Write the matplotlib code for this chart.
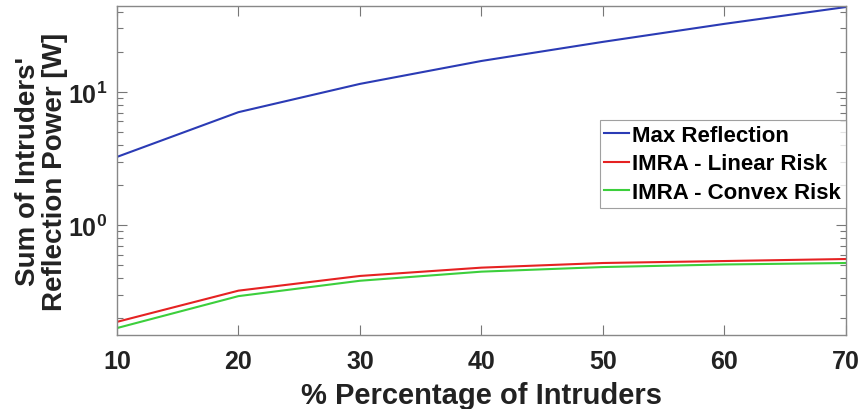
import numpy as np
import matplotlib
matplotlib.use("Agg")
import matplotlib.pyplot as plt
from matplotlib.ticker import LogLocator, NullFormatter

plt.rcParams['font.family'] = ['Liberation Sans', 'DejaVu Sans']
plt.rcParams['font.weight'] = 'bold'
plt.rcParams['mathtext.default'] = 'bf'

# percentage of intruders
x = [10, 20, 30, 40, 50, 60, 70]
max_reflection = [3.25, 7.05, 11.5, 17.1, 23.8, 32.5, 43.5]
imra_linear = [0.187, 0.321, 0.414, 0.478, 0.518, 0.536, 0.555]
imra_convex = [0.168, 0.292, 0.381, 0.446, 0.483, 0.505, 0.518]

fig = plt.figure(figsize=(8.64, 4.10), dpi=100)
ax = fig.add_axes([0.1354, 0.1805, 0.8436, 0.8025])

ax.plot(x, max_reflection, color='#2b3bb5', lw=1.5, label='Max Reflection')
ax.plot(x, imra_linear, color='#e52222', lw=1.5, label='IMRA - Linear Risk')
ax.plot(x, imra_convex, color='#3ccf3c', lw=1.5, label='IMRA - Convex Risk')

ax.set_yscale('log')
ax.set_xlim(10, 70)
ax.set_ylim(0.149, 44.3)
ax.set_xticks(x)
ax.yaxis.set_major_locator(LogLocator(base=10, numticks=10))
ax.yaxis.set_minor_locator(LogLocator(base=10, subs=np.arange(2, 10), numticks=10))
ax.yaxis.set_minor_formatter(NullFormatter())

ax.tick_params(which='both', direction='in', top=True, right=True, colors='#777777',
               labelcolor='#222222', labelsize=18)
ax.tick_params(axis='x', pad=10)
ax.tick_params(axis='y', pad=7)
ax.tick_params(which='major', length=7, width=0.8)
ax.tick_params(which='minor', length=4, width=0.8)
for lab in ax.get_xticklabels() + ax.get_yticklabels():
    lab.set_fontweight('bold')
for s in ax.spines.values():
    s.set_color('#888888')
    s.set_linewidth(1.0)

ax.set_xlabel('% Percentage of Intruders', fontsize=21, fontweight='bold', color='#222222',
              labelpad=6)
ax.set_ylabel("Sum of Intruders'\nReflection Power [W]", fontsize=20, fontweight='bold',
              color='#222222', linespacing=1.05, labelpad=0)

leg = ax.legend(loc='center right', bbox_to_anchor=(1.0, 0.52), fontsize=16,
                handlelength=1.1, handletextpad=0.15, borderpad=0.22, labelspacing=0.33,
                frameon=True, fancybox=False, borderaxespad=0)
leg.get_frame().set_edgecolor('#888888')
leg.get_frame().set_linewidth(0.8)
for t in leg.get_texts():
    t.set_fontweight('bold')

fig.savefig('out.png', dpi=100)
